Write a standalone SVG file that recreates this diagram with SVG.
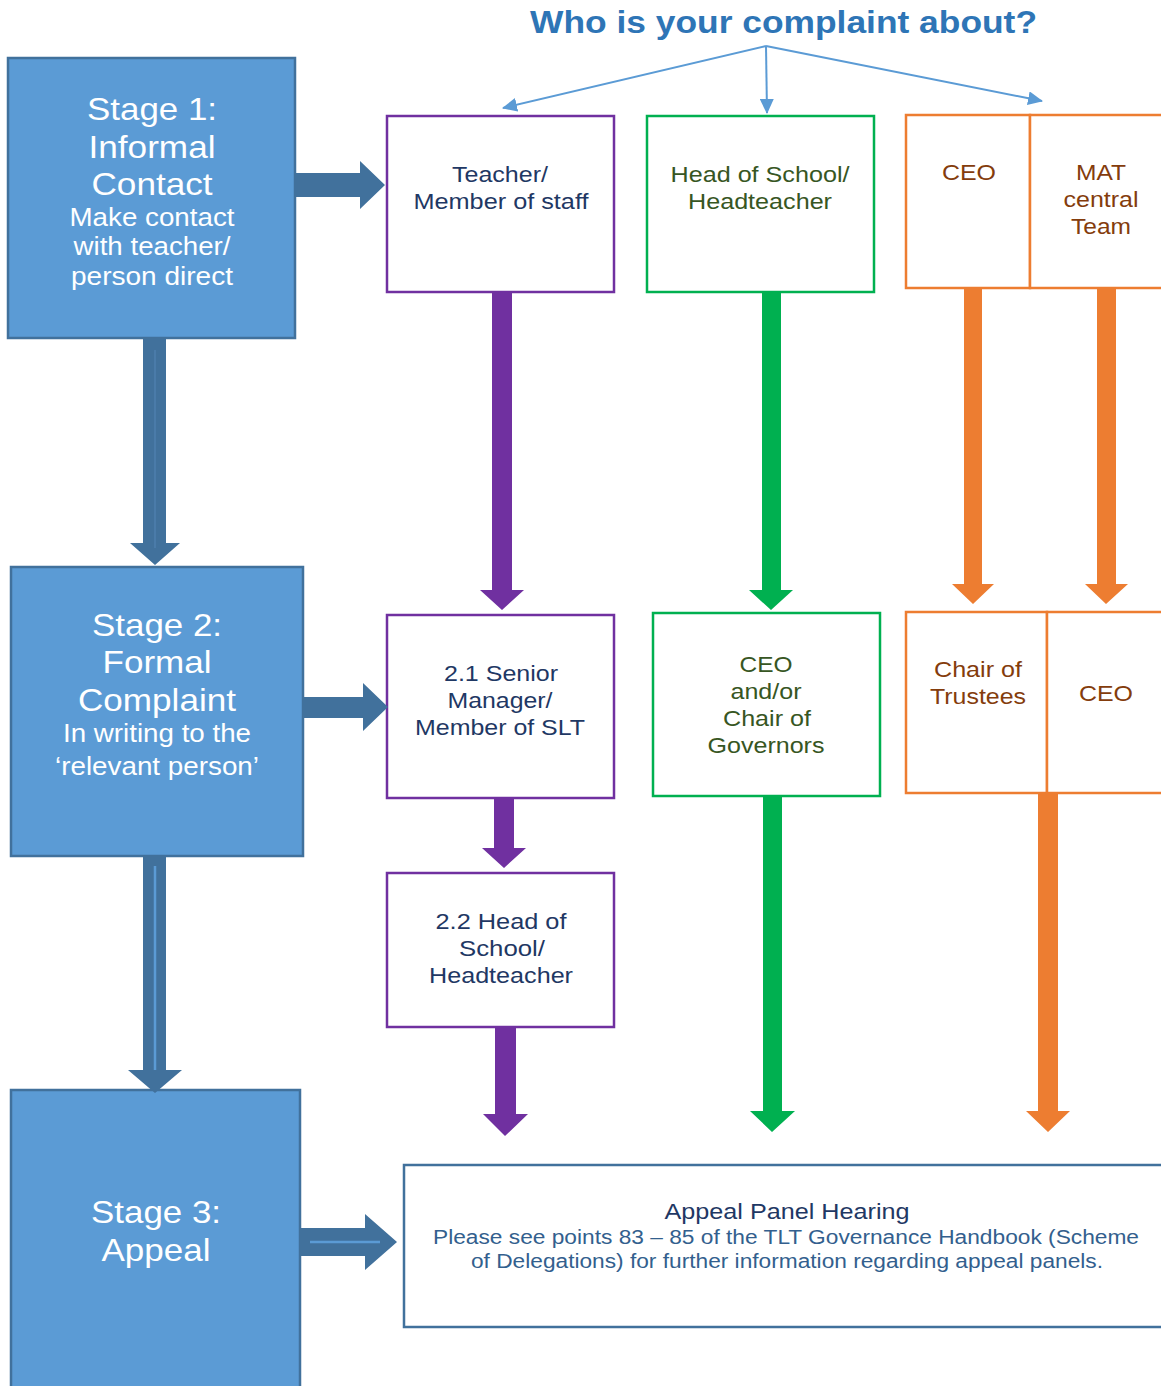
<svg xmlns="http://www.w3.org/2000/svg" width="1161" height="1386" viewBox="0 0 1161 1386">
<style>
text{font-family:"Liberation Sans",Arial,sans-serif;text-anchor:middle}
.stage{fill:#5B9BD5;stroke:#41719C;stroke-width:2.5}
.st{fill:#fff;font-size:32px}
.ss{fill:#fff;font-size:25px}
.pbox{fill:#fff;stroke:#7030A0;stroke-width:2.5}
.gbox{fill:#fff;stroke:#00B050;stroke-width:2.5}
.obox{fill:#fff;stroke:#ED7D31;stroke-width:2.5}
.abox{fill:#fff;stroke:#41719C;stroke-width:2.5}
.pt{fill:#1F3864;font-size:22px}
.gt{fill:#375623;font-size:22px}
.ot{fill:#843C0C;font-size:22px}
.dk{fill:#41719C}
.pu{fill:#7030A0}
.gr{fill:#00B050}
.or{fill:#ED7D31}
.thin{stroke:#5B9BD5;stroke-width:2;fill:none}
.hl{stroke:#5B9BD5;stroke-width:2.5;fill:none}
</style>
<defs>
<marker id="ah" markerUnits="userSpaceOnUse" markerWidth="16" markerHeight="14" refX="14" refY="7" orient="auto">
<path d="M0,0 L15,7 L0,14 Z" fill="#5B9BD5"/>
</marker>
</defs>
<rect width="1161" height="1386" fill="#fff"/>

<text id="title" x="783.5" y="33" font-size="32" font-weight="bold" fill="#2E75B6" textLength="507" lengthAdjust="spacingAndGlyphs">Who is your complaint about?</text>

<g id="stage1">
<rect class="stage" x="8" y="58" width="287" height="280"/>
<text class="st" x="152" y="120" textLength="130" lengthAdjust="spacingAndGlyphs">Stage 1:</text>
<text class="st" x="152" y="158" textLength="127" lengthAdjust="spacingAndGlyphs">Informal</text>
<text class="st" x="152" y="195" textLength="121" lengthAdjust="spacingAndGlyphs">Contact</text>
<text class="ss" x="152" y="226" textLength="165" lengthAdjust="spacingAndGlyphs">Make contact</text>
<text class="ss" x="152" y="255" textLength="157" lengthAdjust="spacingAndGlyphs">with teacher/</text>
<text class="ss" x="152" y="285" textLength="162" lengthAdjust="spacingAndGlyphs">person direct</text>
</g>
<g id="stage2">
<rect class="stage" x="11" y="567" width="292" height="289"/>
<text class="st" x="157" y="636" textLength="130" lengthAdjust="spacingAndGlyphs">Stage 2:</text>
<text class="st" x="157" y="673" textLength="109" lengthAdjust="spacingAndGlyphs">Formal</text>
<text class="st" x="157" y="711" textLength="158" lengthAdjust="spacingAndGlyphs">Complaint</text>
<text class="ss" x="157" y="742" textLength="188" lengthAdjust="spacingAndGlyphs">In writing to the</text>
<text class="ss" x="157" y="775" textLength="204" lengthAdjust="spacingAndGlyphs">‘relevant person’</text>
</g>
<g id="stage3">
<rect class="stage" x="11" y="1090" width="289" height="310"/>
<text class="st" x="156" y="1223" textLength="130" lengthAdjust="spacingAndGlyphs">Stage 3:</text>
<text class="st" x="156" y="1261" textLength="109" lengthAdjust="spacingAndGlyphs">Appeal</text>
</g>

<g id="teacher">
<rect class="pbox" x="387" y="116" width="227" height="176"/>
<text class="pt" x="500" y="182" textLength="96" lengthAdjust="spacingAndGlyphs">Teacher/</text>
<text class="pt" x="501" y="209" textLength="175" lengthAdjust="spacingAndGlyphs">Member of staff</text>
</g>
<g id="senior">
<rect class="pbox" x="387" y="615" width="227" height="183"/>
<text class="pt" x="501" y="681" textLength="114" lengthAdjust="spacingAndGlyphs">2.1 Senior</text>
<text class="pt" x="500" y="708" textLength="105" lengthAdjust="spacingAndGlyphs">Manager/</text>
<text class="pt" x="500" y="735" textLength="170" lengthAdjust="spacingAndGlyphs">Member of SLT</text>
</g>
<g id="headofschool22">
<rect class="pbox" x="387" y="873" width="227" height="154"/>
<text class="pt" x="501" y="929" textLength="131" lengthAdjust="spacingAndGlyphs">2.2 Head of</text>
<text class="pt" x="502" y="956" textLength="86" lengthAdjust="spacingAndGlyphs">School/</text>
<text class="pt" x="501" y="983" textLength="144" lengthAdjust="spacingAndGlyphs">Headteacher</text>
</g>

<g id="headofschool">
<rect class="gbox" x="647" y="116" width="227" height="176"/>
<text class="gt" x="760" y="182" textLength="179" lengthAdjust="spacingAndGlyphs">Head of School/</text>
<text class="gt" x="760" y="209" textLength="144" lengthAdjust="spacingAndGlyphs">Headteacher</text>
</g>
<g id="ceogov">
<rect class="gbox" x="653" y="613" width="227" height="183"/>
<text class="gt" x="766" y="672" textLength="53" lengthAdjust="spacingAndGlyphs">CEO</text>
<text class="gt" x="766" y="699" textLength="71" lengthAdjust="spacingAndGlyphs">and/or</text>
<text class="gt" x="767" y="726" textLength="88" lengthAdjust="spacingAndGlyphs">Chair of</text>
<text class="gt" x="766" y="753" textLength="117" lengthAdjust="spacingAndGlyphs">Governors</text>
</g>

<g id="ceo-top">
<rect class="obox" x="906" y="115" width="124" height="173"/>
<text class="ot" x="969" y="180" textLength="54" lengthAdjust="spacingAndGlyphs">CEO</text>
</g>
<g id="mat">
<rect class="obox" x="1030" y="115" width="150" height="173"/>
<text class="ot" x="1101" y="180" textLength="50" lengthAdjust="spacingAndGlyphs">MAT</text>
<text class="ot" x="1101" y="207" textLength="75" lengthAdjust="spacingAndGlyphs">central</text>
<text class="ot" x="1101" y="234" textLength="60" lengthAdjust="spacingAndGlyphs">Team</text>
</g>
<g id="trustees">
<rect class="obox" x="906" y="612" width="141" height="181"/>
<text class="ot" x="978" y="677" textLength="88" lengthAdjust="spacingAndGlyphs">Chair of</text>
<text class="ot" x="978" y="704" textLength="96" lengthAdjust="spacingAndGlyphs">Trustees</text>
</g>
<g id="ceo-bottom">
<rect class="obox" x="1047" y="612" width="140" height="181"/>
<text class="ot" x="1106" y="701" textLength="54" lengthAdjust="spacingAndGlyphs">CEO</text>
</g>

<g id="appeal">
<rect class="abox" x="404" y="1165" width="780" height="162"/>
<text x="787" y="1219" font-size="22" fill="#1F3864" textLength="245" lengthAdjust="spacingAndGlyphs">Appeal Panel Hearing</text>
<text x="786" y="1244" font-size="20" fill="#335F8E" textLength="706" lengthAdjust="spacingAndGlyphs">Please see points 83 – 85 of the TLT Governance Handbook (Scheme</text>
<text x="787" y="1268" font-size="20" fill="#335F8E" textLength="632" lengthAdjust="spacingAndGlyphs">of Delegations) for further information regarding appeal panels.</text>
</g>

<g id="connectors">
<line class="thin" x1="766" y1="46" x2="503" y2="108" marker-end="url(#ah)"/>
<line class="thin" x1="766" y1="46" x2="767" y2="113" marker-end="url(#ah)"/>
<line class="thin" x1="766" y1="46" x2="1042" y2="101" marker-end="url(#ah)"/>

<polygon class="dk" points="295,173 360,173 360,161 385,185 360,209 360,197 295,197"/>
<polygon class="dk" points="303,697 363,697 363,683 388,707 363,731 363,718 303,718"/>
<polygon class="dk" points="300,1228 365,1228 365,1214 397,1242 365,1270 365,1256 300,1256"/>
<line class="hl" x1="310" y1="1242" x2="380" y2="1242"/>

<polygon class="dk" points="143,338 166,338 166,543 180,543 155,565 130,543 143,543"/>
<line stroke="#4E7FAE" stroke-width="1.5" x1="155" y1="350" x2="155" y2="548"/>
<polygon class="dk" points="143,856 166,856 166,1070 182,1070 155,1093 128,1070 143,1070"/>
<line class="hl" x1="155" y1="866" x2="155" y2="1070"/>

<polygon class="pu" points="492,292 512,292 512,590 524,590 502,610 480,590 492,590"/>
<polygon class="pu" points="494,798 514,798 514,848 526,848 504,868 482,848 494,848"/>
<polygon class="pu" points="495,1027 516,1027 516,1114 528,1114 505,1136 483,1114 495,1114"/>

<polygon class="gr" points="762,292 781,292 781,590 793,590 771,610 749,590 762,590"/>
<polygon class="gr" points="763,796 782,796 782,1111 795,1111 772,1132 750,1111 763,1111"/>

<polygon class="or" points="964,288 982,288 982,584 994,584 973,604 952,584 964,584"/>
<polygon class="or" points="1097,288 1116,288 1116,584 1128,584 1106,604 1085,584 1097,584"/>
<polygon class="or" points="1038,793 1058,793 1058,1111 1070,1111 1048,1132 1026,1111 1038,1111"/>
</g>
</svg>
